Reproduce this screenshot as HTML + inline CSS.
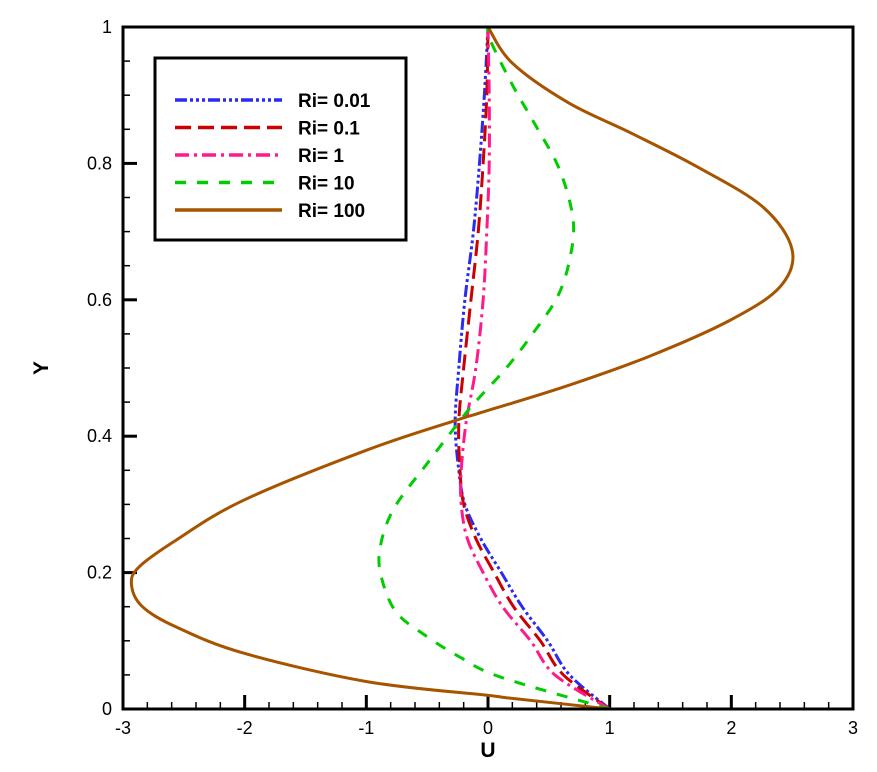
<!DOCTYPE html>
<html><head><meta charset="utf-8"><style>
body{margin:0;background:#fff}
svg text{font-family:"Liberation Sans",sans-serif}
</style></head><body>
<svg id="chart" width="877" height="767" xmlns="http://www.w3.org/2000/svg">
<g id="ticks"></g>
<g id="series"></g>
<rect x="123" y="27" width="730" height="682" fill="none" stroke="#000" stroke-width="3"/>
<text x="488" y="757" font-size="21" font-weight="bold" text-anchor="middle">U</text>
<text x="48" y="368" font-size="21" font-weight="bold" text-anchor="middle" transform="rotate(-90 48 368)">Y</text>
<g>
<rect x="155" y="58" width="251" height="182" fill="#fff" stroke="#000" stroke-width="3"/>
<g id="legend-items"></g>
</g>
</svg>
<script>
const xTicks=[-3,-2,-1,0,1,2,3];
const yTicks=[0,0.2,0.4,0.6,0.8,1];
const yLabels=["0","0.2","0.4","0.6","0.8","1"];
const yRi100=[0,0.016,0.02,0.04,0.082,0.12,0.15,0.182,0.208,0.248,0.306,0.38,0.424,0.434,0.472,0.516,0.57,0.619,0.673,0.736,0.795,0.845,0.889,0.947,1];
const uRi100=[1,0.18,0,-0.99,-2.01,-2.56,-2.84,-2.93,-2.87,-2.56,-2.01,-0.99,-0.25,-0.07,0.62,1.31,1.99,2.4,2.5,2.26,1.72,1.17,0.66,0.2,0];
const yRi10=[0,0.047,0.076,0.106,0.141,0.189,0.233,0.292,0.36,0.441,0.457,0.502,0.551,0.604,0.658,0.717,0.79,0.853,0.912,0.98,1];
const uRi10=[1,0.1,-0.23,-0.5,-0.75,-0.87,-0.89,-0.78,-0.5,-0.15,-0.07,0.16,0.37,0.57,0.67,0.7,0.59,0.4,0.21,0.02,0];
const ySmall=[0,0.05,0.1,0.15,0.2,0.25,0.3,0.35,0.42,0.5,0.6,0.7,0.8,0.9,1];
const uRi001=[1,0.67,0.49,0.28,0.11,-0.06,-0.19,-0.24,-0.27,-0.24,-0.19,-0.12,-0.07,-0.03,0];
const uRi01=[1,0.62,0.43,0.21,0.05,-0.1,-0.2,-0.23,-0.24,-0.2,-0.14,-0.08,-0.04,-0.01,0];
const uRi1=[1,0.55,0.35,0.12,-0.04,-0.17,-0.22,-0.22,-0.18,-0.1,-0.04,-0.01,0.01,0.01,0];
const seriesNames=["Ri= 0.01","Ri= 0.1","Ri= 1","Ri= 10","Ri= 100"];
const X=u=>488+u*121.667, Y=y=>709-y*682;
const NS="http://www.w3.org/2000/svg";
function mk(t,a,p){const e=document.createElementNS(NS,t);for(const k in a)e.setAttribute(k,a[k]);p.appendChild(e);return e;}
const tg=document.getElementById('ticks');
for(let v=-3;v<=3.001;v+=0.2){const major=Math.abs(v-Math.round(v))<1e-6;
 const t=mk('line',{x1:X(v),x2:X(v),y1:709,y2:709-(major?14:7),stroke:'#000','stroke-width':major?3:1.5},tg);
 }
for(let v=0;v<=1.001;v+=0.05){const major=Math.abs(v*5-Math.round(v*5))<1e-6;
 const t=mk('line',{x1:123,x2:123+(major?14:7),y1:Y(v),y2:Y(v),stroke:'#000','stroke-width':major?3:1.5},tg);
 }
xTicks.forEach(v=>{const t=mk('text',{x:X(v),y:734,'font-size':18,'text-anchor':'middle'},tg);t.textContent=String(v);
 });
yTicks.forEach((v,i)=>{const t=mk('text',{x:112,y:Y(v)+6,'font-size':18,'text-anchor':'end'},tg);t.textContent=yLabels[i];
 });
function path(us,ys){const p=us.map((u,i)=>[X(u),Y(ys[i])]);let d=`M${p[0][0]},${p[0][1]}`;
 for(let i=0;i<p.length-1;i++){const p0=p[i-1]||p[i],p1=p[i],p2=p[i+1],p3=p[i+2]||p2;
  d+=` C${p1[0]+(p2[0]-p0[0])/6},${p1[1]+(p2[1]-p0[1])/6} ${p2[0]-(p3[0]-p1[0])/6},${p2[1]-(p3[1]-p1[1])/6} ${p2[0]},${p2[1]}`;}return d;}
const styles=[
 {c:'#2a2af0',da:'12 3 3 3 3 3 3 3'},
 {c:'#cc0000',da:'16 7'},
 {c:'#ff1a8c',da:'14 5 3 5'},
 {c:'#00cc00',da:'11 11'},
 {c:'#a65400',da:''}];
const data=[[uRi001,ySmall],[uRi01,ySmall],[uRi1,ySmall],[uRi10,yRi10],[uRi100,yRi100]];
const sg=document.getElementById('series');
data.forEach((d,i)=>{const e=mk('path',{d:path(d[0],d[1]),fill:'none',stroke:styles[i].c,'stroke-width':3,'stroke-dasharray':styles[i].da},sg);
 
 });
const lg=document.getElementById('legend-items');
seriesNames.forEach((n,i)=>{const y=100+i*27.5;
 const l=mk('line',{x1:175,x2:282,y1:y,y2:y,stroke:styles[i].c,'stroke-width':3.5,'stroke-dasharray':styles[i].da},lg);
 
 const t=mk('text',{x:298,y:y+7,'font-size':19,'font-weight':'bold'},lg);t.textContent=n;
 });
</script>
</body></html>
